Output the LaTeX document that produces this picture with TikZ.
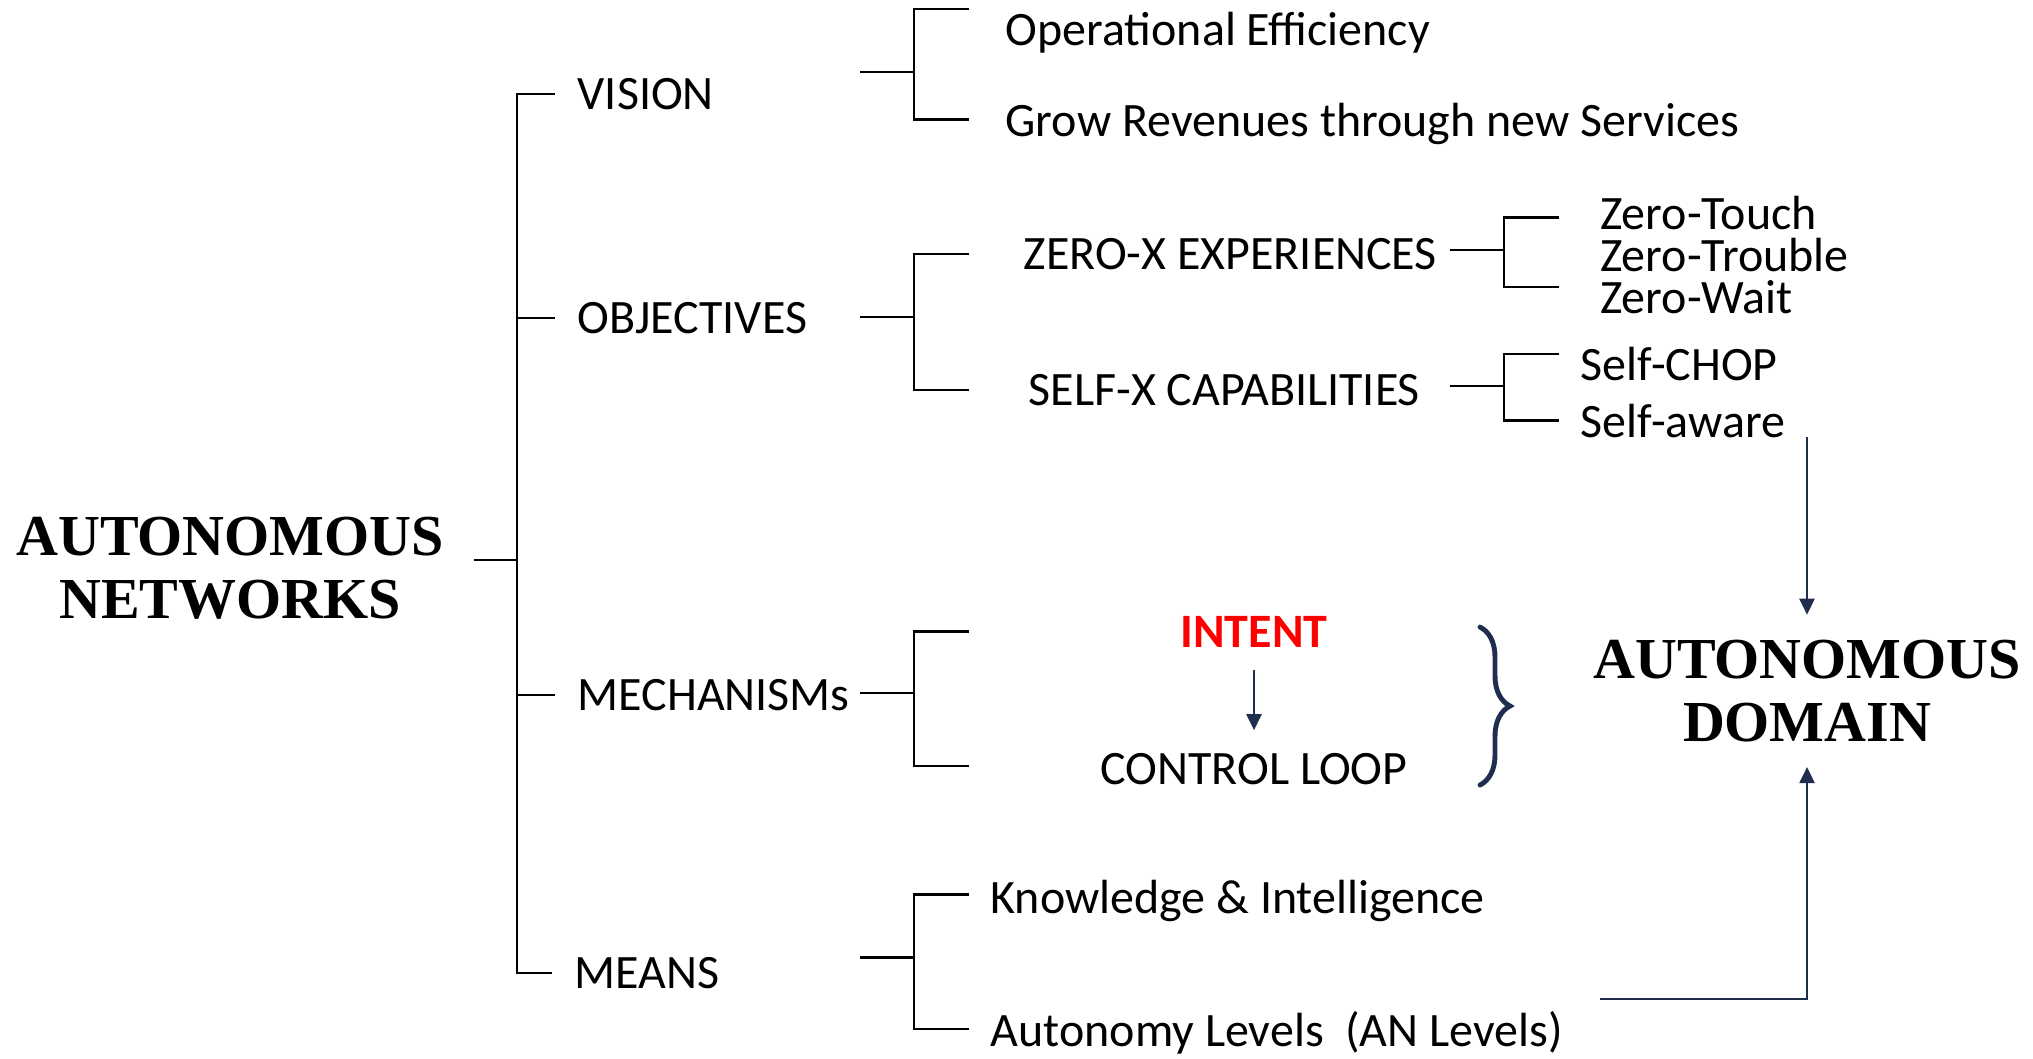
\documentclass[tikz,border=0pt]{standalone}
\usepackage{fontspec}
\setmainfont{Carlito}
\newfontfamily\headfont{Liberation Serif}
\usetikzlibrary{arrows.meta,calc,decorations.pathreplacing}
\definecolor{navy}{RGB}{31,45,78}
\definecolor{intentred}{RGB}{255,0,0}

\begin{document}
\begin{tikzpicture}[
    item/.style={font=\fontsize{13.65pt}{16pt}\selectfont, inner sep=0.22cm, anchor=base west},
    subitem/.style={item, inner ysep=0.01cm},
    head/.style={font=\fontsize{16.5pt}{17.9pt}\selectfont\headfont\bfseries, align=center,
      inner xsep=0.3cm, inner ysep=0.245cm, anchor=south},
    tree/.style={line width=0.6pt},
    link/.style={navy, line width=0.6pt, -{Triangle[width=1.5mm,length=1.6mm]}}
  ]
    \useasboundingbox (0,0) rectangle (20.33,-10.58);

    \node [head] (root) at (2.30,-6.445) {AUTONOMOUS\\NETWORKS};
    \node [head] (domain) at (18.07,-7.67) {AUTONOMOUS\\DOMAIN};

    \node [item] (vision) at (5.55,-1.09) {VISION};
    \node [item] (objectives) at (5.55,-3.33) {OBJECTIVES};
    \node [item] (mechanisms) at (5.55,-7.10) {MECHANISMs};
    \node [item] (means) at (5.52,-9.88) {MEANS};

    \node [item] (opeff) at (9.83,-0.45) {Operational Efficiency};
    \node [item] (grow) at (9.83,-1.36) {Grow Revenues through new Services};
    \node [item] (zerox) at (10.01,-2.69) {ZERO-X EXPERIENCES};
    \node [item] (selfx) at (10.06,-4.05) {SELF-X CAPABILITIES};
    \node [item, anchor=base, text=intentred, font=\fontsize{13.65pt}{16pt}\selectfont\bfseries] (intent) at (12.54,-6.47) {INTENT};
    \node [item, anchor=base] (ctrl) at (12.54,-7.84) {CONTROL LOOP};
    \node [item] (knowl) at (9.68,-9.13) {Knowledge \& Intelligence};
    \node [item] (anlev) at (9.68,-10.46) {Autonomy Levels\ \ (AN Levels)};

    \node [subitem] (ztouch) at (15.775,-2.29) {Zero-Touch};
    \node [subitem] (ztrouble) at (15.775,-2.71) {Zero-Trouble};
    \node [subitem] (zwait) at (15.775,-3.13) {Zero-Wait};
    \node [subitem] (schop) at (15.58,-3.805) {Self-CHOP};
    \node [subitem] (saware) at (15.58,-4.37) {Self-aware};

    \coordinate (spine) at (5.17,-5.60);
    \coordinate (tick) at (9.69,0);
    \coordinate (subtick) at (15.59,0);
    \coordinate (visfork) at (9.14,-0.72);
    \coordinate (objfork) at (9.14,-3.17);
    \coordinate (mechfork) at (9.14,-6.93);
    \coordinate (meansfork) at (9.14,-9.575);
    \coordinate (zerofork) at (15.04,-2.50);
    \coordinate (selffork) at (15.04,-3.86);
    \coordinate (lvout) at (16.00,-9.99);

    \draw [tree] (root.east |- spine) -- (spine);
    \draw [tree] (vision.west) -| (spine) |- (means.west);
    \draw [tree] (objectives.west) -- (objectives.west -| spine);
    \draw [tree] (mechanisms.west) -- (mechanisms.west -| spine);

    \draw [tree] (visfork) -- +(-0.54,0);
    \draw [tree] ($(opeff.west -| tick)+(0,0.23)$) -| (visfork) |- ($(grow.west -| tick)+(0,0.04)$);
    \draw [tree] (objfork) -- +(-0.54,0);
    \draw [tree] (zerox.west -| tick) -| (objfork) |- (selfx.west -| tick);
    \draw [tree] (mechfork) -- +(-0.54,0);
    \draw [tree] (intent.west -| tick) -| (mechfork) |- ($(ctrl.west -| tick)+(0,0.03)$);
    \draw [tree] (meansfork) -- +(-0.54,0);
    \draw [tree] ($(knowl.west -| tick)+(0,0.06)$) -| (meansfork) |- ($(anlev.west -| tick)+(0,0.03)$);

    \draw [tree] (zerofork) -- +(-0.54,0);
    \draw [tree] ($(ztouch.west -| subtick)+(0,-0.05)$) -| (zerofork) |- ($(zwait.west -| subtick)+(0,0.10)$);
    \draw [tree] (selffork) -- +(-0.54,0);
    \draw [tree] ($(schop.west -| subtick)+(0,0.10)$) -| (selffork) |- (saware.west -| subtick);

    \draw [link] (intent.south) -- (intent.south |- ctrl.north);
    \draw [link] (domain.north |- saware.base) -- (domain.north);
    \draw [link] (lvout) -| (domain.south);

    \draw [navy, line width=1.4pt, line cap=round, decorate, decoration={brace, amplitude=0.30cm}]
      (14.80,-6.27) -- (14.80,-7.85);
  \end{tikzpicture}
\end{document}
